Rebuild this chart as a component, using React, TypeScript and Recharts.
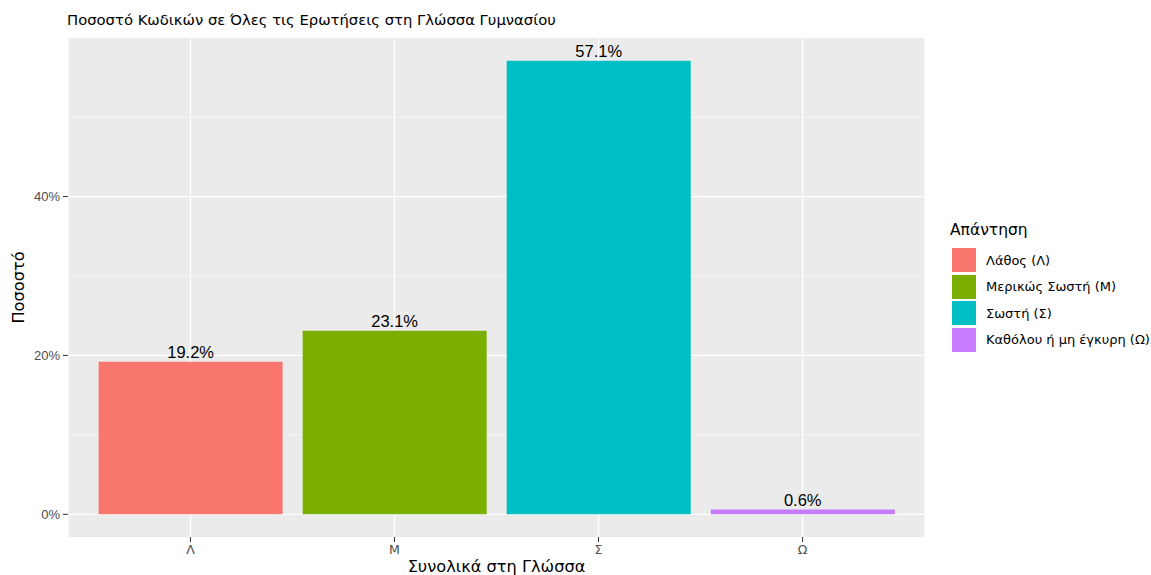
import React from "react";
import { BarChart, Bar, XAxis, YAxis, CartesianGrid, Cell, LabelList } from "recharts";

const categories = ["Λ", "Μ", "Σ", "Ω"];
const values = [19.2, 23.1, 57.1, 0.6];
const legendLabels = ["Λάθος (Λ)", "Μερικώς Σωστή (Μ)", "Σωστή (Σ)", "Καθόλου ή μη έγκυρη (Ω)"];
const colors = ["#F8766D", "#7CAE00", "#00BFC4", "#C77CFF"];
const majorTicks = [0, 20, 40];
const minorTicks = [10, 30, 50];

const data = categories.map((c, i) => ({ cat: c, value: values[i] }));

const FONT = "'Liberation Sans', Arial, Helvetica, sans-serif";
const GREEK = "'DejaVu Sans', 'Liberation Sans', sans-serif";
const maxV = Math.max(...values);
const pad = maxV * 0.05;

export default function App() {
  return (
    <div style={{ position: "absolute", left: 0, top: 0, width: 1151, height: 575, background: "#fff", fontFamily: FONT, overflow: "hidden" }}>
      <div style={{ position: "absolute", left: 67, top: 11, fontSize: 14.8, color: "#000", fontFamily: GREEK, whiteSpace: "nowrap" }}>
        Ποσοστό Κωδικών σε Όλες τις Ερωτήσεις στη Γλώσσα Γυμνασίου
      </div>
      <BarChart
        width={1151}
        height={575}
        data={data}
        margin={{ top: 38, right: 226, left: 0, bottom: 0 }}
        barCategoryGap="5%"
        style={{ fontFamily: FONT }}
      >
        <CartesianGrid
          fill="#EBEBEB"
          stroke="#FFFFFF"
          strokeWidth={0.6}
          vertical={false}
          horizontalValues={minorTicks}
        />
        <CartesianGrid
          stroke="#FFFFFF"
          strokeWidth={1.3}
          horizontalValues={majorTicks}
        />
        <XAxis
          dataKey="cat"
          height={38}
          axisLine={false}
          tickSize={5}
          tickMargin={3}
          tickLine={{ stroke: "#333333" }}
          tick={{ fill: "#4D4D4D", fontSize: 12.5, fontFamily: GREEK }}
          padding={{ left: 20.4, right: 20.4 }}
          label={{ value: "Συνολικά στη Γλώσσα", position: "insideBottom", offset: 3, fill: "#000", fontSize: 16.2, fontFamily: GREEK }}
        />
        <YAxis
          width={68}
          type="number"
          domain={[-pad, maxV + pad]}
          allowDataOverflow
          ticks={majorTicks}
          tickFormatter={(v: number) => `${v}%`}
          axisLine={false}
          tickSize={5}
          tickMargin={3}
          tickLine={{ stroke: "#333333" }}
          tick={{ fill: "#4D4D4D", fontSize: 13 }}
          label={{ value: "Ποσοστό", angle: -90, position: "insideLeft", offset: 18, fill: "#000", fontSize: 16.2, fontFamily: GREEK, style: { textAnchor: "middle" } }}
        />
        <Bar dataKey="value" isAnimationActive={false}>
          {data.map((d, i) => (
            <Cell key={d.cat} fill={colors[i]} />
          ))}
          <LabelList
            dataKey="value"
            position="top"
            offset={4}
            formatter={(v: number) => `${v.toFixed(1)}%`}
            style={{ fill: "#000", fontSize: 16.5 }}
          />
        </Bar>
      </BarChart>
      <div style={{ position: "absolute", left: 950, top: 221, fontSize: 15.5, color: "#000", fontFamily: GREEK }}>Απάντηση</div>
      {legendLabels.map((l, i) => (
        <div key={l} style={{ position: "absolute", left: 951, top: 247 + i * 26.5, height: 26, display: "flex", alignItems: "center" }}>
          <div style={{ width: 24, height: 24, background: colors[i], border: "1px solid #fff" }} />
          <div style={{ marginLeft: 9, fontSize: 13, color: "#000", fontFamily: GREEK, whiteSpace: "nowrap" }}>{l}</div>
        </div>
      ))}
    </div>
  );
}
